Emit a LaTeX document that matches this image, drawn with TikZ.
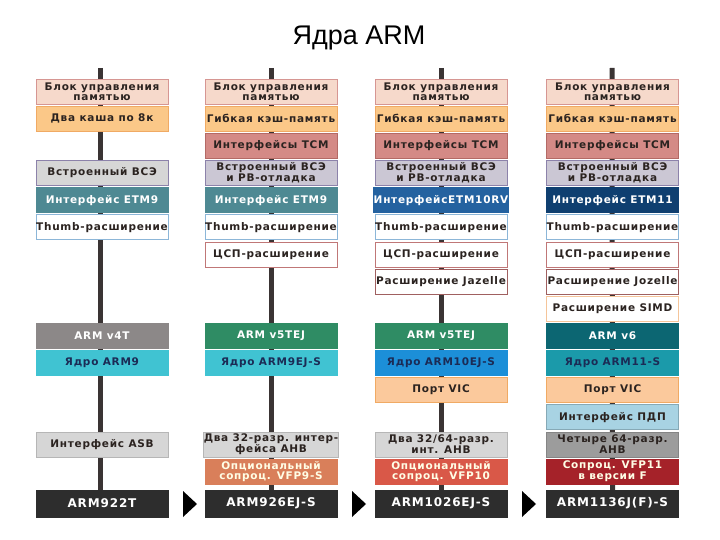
\documentclass[tikz,border=0pt]{standalone}
\usepackage{fontspec}
\usepackage{tikz}
\usetikzlibrary{positioning,backgrounds}
\newfontfamily\titlefont{Liberation Sans}
\newfontfamily\boxfont{DejaVu Sans}[LetterSpace=7]
\definecolor{MMUFill}{RGB}{246,217,203}
\definecolor{MMUEdge}{RGB}{214,150,146}
\definecolor{CacheFill}{RGB}{251,200,136}
\definecolor{CacheEdge}{RGB}{240,170,100}
\definecolor{TCMFill}{RGB}{212,138,134}
\definecolor{TCMEdge}{RGB}{180,106,102}
\definecolor{ICEFill}{RGB}{203,199,212}
\definecolor{ICEEdge}{RGB}{140,130,170}
\definecolor{ETMNine}{RGB}{78,137,147}
\definecolor{ETMTen}{RGB}{36,98,160}
\definecolor{ETMEleven}{RGB}{15,63,112}
\definecolor{ThumbEdge}{RGB}{140,182,216}
\definecolor{DSPEdge}{RGB}{192,119,119}
\definecolor{JazEdge}{RGB}{160,96,96}
\definecolor{SIMDEdge}{RGB}{245,197,154}
\definecolor{ArchFour}{RGB}{140,136,136}
\definecolor{ArchFive}{RGB}{47,140,100}
\definecolor{ArchSix}{RGB}{12,102,114}
\definecolor{CoreCyan}{RGB}{64,195,210}
\definecolor{CoreBlue}{RGB}{28,143,216}
\definecolor{CoreTeal}{RGB}{27,154,170}
\definecolor{VICFill}{RGB}{251,201,156}
\definecolor{DMAFill}{RGB}{168,211,227}
\definecolor{BusFill}{RGB}{214,214,214}
\definecolor{BusDark}{RGB}{156,156,156}
\definecolor{VFPNine}{RGB}{217,127,90}
\definecolor{VFPTen}{RGB}{217,88,72}
\definecolor{VFPEleven}{RGB}{165,34,41}
\definecolor{ChipFill}{RGB}{45,45,45}
\definecolor{SpineC}{RGB}{58,52,52}
\definecolor{TxtDark}{RGB}{43,35,32}
\definecolor{TxtNavy}{RGB}{27,43,85}

\begin{document}
\begin{tikzpicture}[x=1pt,y=-1pt,
        node distance=2.15pt,
        cell/.style={minimum width=132pt,minimum height=25pt,inner sep=0pt,
                     outer sep=0pt,align=center,line width=0.8pt,text=TxtDark,
                     font=\boxfont\bfseries\fontsize{10.5}{9.8}\selectfont},
        mmu/.style={cell,fill=MMUFill,draw=MMUEdge},
        cache/.style={cell,fill=CacheFill,draw=CacheEdge},
        tcm/.style={cell,fill=TCMFill,draw=TCMEdge},
        ice/.style={cell,fill=ICEFill,draw=ICEEdge},
        etm/.style={cell,fill=#1,draw=#1,text=white},
        wbox/.style={cell,fill=white,draw=#1},
        arch/.style={cell,fill=#1,draw=#1,text=white},
        core/.style={cell,fill=#1,draw=#1,text=TxtNavy},
        vic/.style={cell,fill=VICFill,draw=CacheEdge},
        bus/.style={cell,fill=#1,draw=#1!85!black},
        vfp/.style={cell,fill=#1,draw=#1,text=white!90!yellow},
        chip/.style={cell,minimum height=27pt,fill=ChipFill,draw=ChipFill,text=white,
                     font=\boxfont\bfseries\fontsize{12}{12}\selectfont},
        spine/.style={SpineC,line width=5pt},
        title/.style={font=\titlefont\fontsize{27}{27}\selectfont}
      ]
        \useasboundingbox (0,0) rectangle (720,540);
        \node[title] (ttl) at (359,38) {Ядра ARM};

        % ARM922T
        \node[mmu] (m1) at (102,91.5) {Блок управления\\памятью};
        \node[cache,below=of m1] (k1) {Два каша по 8к};
        \node[ice,fill=BusFill,below=29.3pt of k1] (i1) {Встроенный ВСЭ};
        \node[etm=ETMNine,below=of i1] (e1) {Интерфейс ETM9};
        \node[wbox=ThumbEdge,below=of e1] (th1) {Thumb-расширение};
        \node[arch=ArchFour,below=83.6pt of th1] (a1) {ARM v4T};
        \node[core=CoreCyan,below=of a1] (c1) {Ядро ARM9};
        \node[bus=BusFill,below=56.45pt of c1] (bs1) {Интерфейс ASB};
        \node[chip,below=33pt of bs1] (b1) {ARM922T};

        % ARM926EJ-S
        \node[mmu] (m2) at (271,91.5) {Блок управления\\памятью};
        \node[cache,below=of m2] (k2) {Гибкая кэш-память};
        \node[tcm,below=of k2] (t2) {Интерфейсы TCM};
        \node[ice,below=of t2] (i2) {Встроенный ВСЭ\\и PB-отладка};
        \node[etm=ETMNine,below=of i2] (e2) {Интерфейс ETM9};
        \node[wbox=ThumbEdge,below=of e2] (th2) {Thumb-расширение};
        \node[wbox=DSPEdge,below=of th2] (d2) {ЦСП-расширение};
        \node[arch=ArchFive,below=56.45pt of d2] (a2) {ARM v5TEJ};
        \node[core=CoreCyan,below=of a2] (c2) {Ядро ARM9EJ-S};
        \node[bus=BusFill,below=56.45pt of c2] (bs2) {Два 32-разр. интер-\\фейса AHB};
        \node[vfp=VFPNine,below=of bs2] (v2) {Опциональный\\сопроц. VFP9-S};
        \node[chip,below=5.9pt of v2] (b2) {ARM926EJ-S};

        % ARM1026EJ-S
        \node[mmu] (m3) at (441,91.5) {Блок управления\\памятью};
        \node[cache,below=of m3] (k3) {Гибкая кэш-память};
        \node[tcm,below=of k3] (t3) {Интерфейсы TCM};
        \node[ice,below=of t3] (i3) {Встроенный ВСЭ\\и PB-отладка};
        \node[etm=ETMTen,below=of i3] (e3) {ИнтерфейсETM10RV};
        \node[wbox=ThumbEdge,below=of e3] (th3) {Thumb-расширение};
        \node[wbox=DSPEdge,below=of th3] (d3) {ЦСП-расширение};
        \node[wbox=JazEdge,below=of d3] (j3) {Расширение Jazelle};
        \node[arch=ArchFive,below=29.3pt of j3] (a3) {ARM v5TEJ};
        \node[core=CoreBlue,below=of a3] (c3) {Ядро ARM10EJ-S};
        \node[vic,below=of c3] (p3) {Порт VIC};
        \node[bus=BusFill,below=29.3pt of p3] (bs3) {Два 32/64-разр.\\инт. AHB};
        \node[vfp=VFPTen,below=of bs3] (v3) {Опциональный\\сопроц. VFP10};
        \node[chip,below=5.9pt of v3] (b3) {ARM1026EJ-S};

        % ARM1136J(F)-S
        \node[mmu] (m4) at (612.5,91.5) {Блок управления\\памятью};
        \node[cache,below=of m4] (k4) {Гибкая кэш-память};
        \node[tcm,below=of k4] (t4) {Интерфейсы TCM};
        \node[ice,below=of t4] (i4) {Встроенный ВСЭ\\и PB-отладка};
        \node[etm=ETMEleven,below=of i4] (e4) {Интерфейс ETM11};
        \node[wbox=ThumbEdge,below=of e4] (th4) {Thumb-расширение};
        \node[wbox=DSPEdge,below=of th4] (d4) {ЦСП-расширение};
        \node[wbox=JazEdge,below=of d4] (j4) {Расширение Jozelle};
        \node[wbox=SIMDEdge,below=of j4] (s4) {Расширение SIMD};
        \node[arch=ArchSix,below=of s4] (a4) {ARM v6};
        \node[core=CoreTeal,below=of a4] (c4) {Ядро ARM11-S};
        \node[vic,below=of c4] (p4) {Порт VIC};
        \node[cell,fill=DMAFill,draw=DMAFill!80!black,below=of p4] (dm4) {Интерфейс ПДП};
        \node[bus=BusDark,below=of dm4] (bs4) {Четыре 64-разр.\\AHB};
        \node[vfp=VFPEleven,below=of bs4] (v4) {Сопроц. VFP11\\в версии F};
        \node[chip,below=5.9pt of v4] (b4) {ARM1136J(F)-S};

        \coordinate (top1) at (100,68);
        \coordinate (top2) at (271,68);
        \coordinate (top3) at (441,68);
        \coordinate (top4) at (612,68);
        \begin{scope}[on background layer]
          \draw[spine] (top1) -- (top1 |- b1.north);
          \draw[spine] (top2) -- (b2.north);
          \draw[spine] (top3) -- (b3.north);
          \draw[spine] (top4) -- (b4.north);
        \end{scope}

        % arrows between the chips
        \fill (183,491) -- (197,504) -- (183,517) -- cycle;
        \fill (352,491) -- (366,504) -- (352,517) -- cycle;
        \fill (522,491) -- (536,504) -- (522,517) -- cycle;
      \end{tikzpicture}
\end{document}
